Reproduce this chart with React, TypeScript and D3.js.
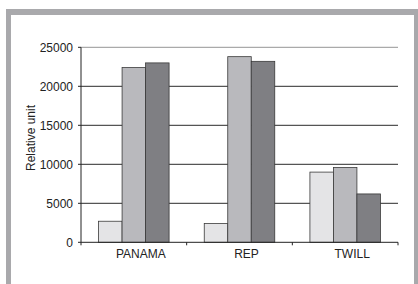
import React from "react";
import * as d3 from "d3";

const categories = ["PANAMA", "REP", "TWILL"];
const series1 = [2700, 2400, 9000];
const series2 = [22400, 23800, 9600];
const series3 = [23000, 23200, 6200];
const yTicks = [0, 5000, 10000, 15000, 20000, 25000];
const yLabel = "Relative unit";

const seriesList = [series1, series2, series3];
const colors = ["#e4e4e6", "#b9b9bd", "#7f7f83"];

export default function App() {
  const W = 418, H = 284;
  const left = 81, right = 398, top = 47.3, bottom = 242.3;
  const x0 = d3.scaleBand<string>().domain(categories).range([left, right]).paddingInner(0).paddingOuter(0);
  const y = d3.scaleLinear().domain([0, 25000]).range([bottom, top]);
  const groupW = 70.5;
  const x1 = d3.scaleBand<number>().domain([0, 1, 2]).range([0, groupW]);
  const font = "Liberation Sans, Arial, sans-serif";
  return (
    <svg width={W} height={H} style={{ position: "absolute", left: 0, top: 0 }} fontFamily={font}>
      <rect x={0} y={0} width={W} height={H} fill="#fff" />
      {/* frame */}
      <rect x={6} y={9} width={412} height={290} fill="#a9a9ac" />
      <rect x={11} y={15} width={403} height={290} fill="#fff" />
      {/* grid */}
      {yTicks.map((t) => (
        <line key={t} x1={left} x2={right} y1={y(t)} y2={y(t)} stroke={t === 25000 ? "#aaa" : "#555"} strokeWidth={t === 0 ? 0 : 1.2} />
      ))}
      {/* bars */}
      {categories.map((c, i) => {
        const bx = (x0(c) as number) + (x0.bandwidth() - groupW) / 2;
        return seriesList.map((s, j) => (
          <rect key={c + j} x={bx + (x1(j) as number)} y={y(s[i])} width={x1.bandwidth()} height={bottom - y(s[i])}
            fill={colors[j]} stroke="#3a3a3a" strokeWidth={0.8} />
        ));
      })}
      {/* axes */}
      <line x1={left} x2={left} y1={top} y2={bottom} stroke="#222" strokeWidth={1} />
      <line x1={left} x2={right} y1={bottom} y2={bottom} stroke="#222" strokeWidth={1} />
      {yTicks.map((t) => (
        <g key={"t" + t}>
          <line x1={left - 3} x2={left} y1={y(t)} y2={y(t)} stroke="#222" />
          <text x={73} y={y(t)} dy="0.35em" textAnchor="end" fontSize={12} fill="#222">{t}</text>
        </g>
      ))}
      {[...categories.map((c) => x0(c) as number), right].map((v, i) => (
        <line key={"c" + i} x1={v} x2={v} y1={bottom} y2={bottom + 3} stroke="#222" />
      ))}
      {categories.map((c) => (
        <text key={"l" + c} x={(x0(c) as number) + x0.bandwidth() / 2 + 7} y={258} textAnchor="middle" fontSize={12} fill="#222">{c}</text>
      ))}
      <text transform={`translate(35,138) rotate(-90)`} textAnchor="middle" fontSize={12} fill="#222">{yLabel}</text>
    </svg>
  );
}
